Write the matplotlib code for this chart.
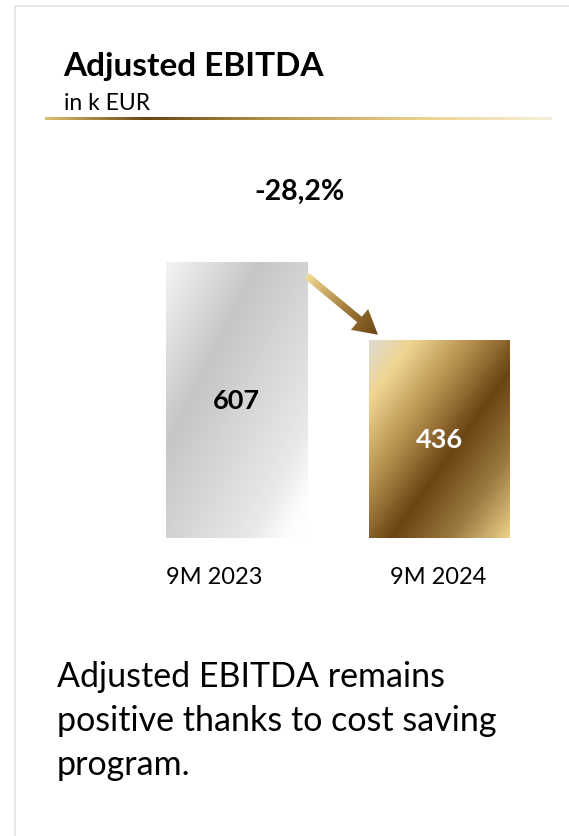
import numpy as np
import matplotlib
matplotlib.use("Agg")
import matplotlib.pyplot as plt
from matplotlib.colors import LinearSegmentedColormap
from matplotlib.patches import Polygon, Rectangle

plt.rcParams['font.family'] = ['Lato', 'DejaVu Sans']

# --- data -------------------------------------------------------------
categories = ["9M 2023", "9M 2024"]
values = [607, 436]
title = "Adjusted EBITDA"
subtitle = "in k EUR"
note_lines = ["Adjusted EBITDA remains",
              "positive thanks to cost saving",
              "program."]

W, H = 569, 837
fig = plt.figure(figsize=(W / 100, H / 100), dpi=100)
fig.patch.set_facecolor("white")

# pixel-space overlay for the card, headings and arrow
ov = fig.add_axes([0, 0, 1, 1], zorder=2)
ov.set_xlim(0, W)
ov.set_ylim(H, 0)
ov.axis("off")
ov.patch.set_visible(False)

# chart axes: baseline at y=539px, 0.4547 px per unit
px_per_unit = 276 / 607
base_px, top_px = 539, 239
ax = fig.add_axes([0, 1 - base_px / H, 1, (base_px - top_px) / H], zorder=1)
ax.set_xlim(-236.5 / 203, (W - 236.5) / 203)
ax.set_ylim(0, (base_px - top_px) / px_per_unit)
ax.axis("off")
ax.patch.set_visible(False)

silver = LinearSegmentedColormap.from_list("silver", [
    (0.0, "#f3f3f3"), (0.33, "#c6c6c6"), (0.55, "#d6d6d6"),
    (0.8, "#e9e9e9"), (0.93, "#fdfdfd"), (1.0, "#ffffff")])
gold = LinearSegmentedColormap.from_list("gold", [
    (0.0, "#dedbd2"), (0.15, "#efd590"), (0.36, "#b8924f"),
    (0.58, "#6a4413"), (0.8, "#9d7a42"), (1.0, "#ebcf88")])
arrow_cm = LinearSegmentedColormap.from_list("arrow", [
    (0.0, "#f0d890"), (0.55, "#a27a3a"), (1.0, "#6a4413")])
rule_cm = LinearSegmentedColormap.from_list("rule", [
    (0.0, "#dcc070"), (0.2, "#6b4512"), (0.45, "#b8944c"),
    (0.75, "#ecd390"), (1.0, "#f7f0dc")])

width = 141 / 203
n = 64
u = np.linspace(0, 1, n)[None, :]
v = np.linspace(0, 1, n)[:, None]
tgrid = (u + v) / 2
bars = ax.bar(range(len(values)), values, width=width, color="none", linewidth=0)
for bar, cm in zip(bars, [silver, gold]):
    x0, y0 = bar.get_x(), bar.get_y()
    im = ax.imshow(tgrid, cmap=cm, vmin=0, vmax=1, origin="upper",
                   extent=[x0, x0 + bar.get_width(), y0, y0 + bar.get_height()],
                   aspect="auto", interpolation="bilinear", zorder=1)
    im.set_clip_path(bar)
ax.set_xlim(-236.5 / 203, (W - 236.5) / 203)
ax.set_ylim(0, (base_px - top_px) / px_per_unit)

for i, (val, col) in enumerate(zip(values, ["black", "white"])):
    ax.text(i, val / 2, f"{val}", ha="center", va="center",
            fontsize=19.5, fontweight="bold", color=col, zorder=3)

# card outline
ov.add_patch(Rectangle((15, 7), W, H, fill=False, edgecolor="#e3e3e3", lw=1.2))

# headings and gradient rule
ov.text(63, 76, title, fontsize=24, fontweight="bold", va="baseline", ha="left")
ov.text(64, 110, subtitle, fontsize=16.5, va="baseline", ha="left")
rule = np.linspace(0, 1, 256)[None, :]
ov.imshow(rule, cmap=rule_cm, extent=[45, 552, 121, 118.5], aspect="auto")

# change label
change = (values[1] - values[0]) / values[0] * 100
ov.text(300, 192, f"{change:.1f}%".replace(".", ","), fontsize=20.5,
        fontweight="bold", ha="center", va="center")

# arrow from bar 1 to bar 2
def to_px(x, y):
    return ov.transData.inverted().transform(ax.transData.transform((x, y)))

b1, b2 = bars[0], bars[1]
S = to_px(b1.get_x() + b1.get_width(), values[0] - 14 / px_per_unit)
E = to_px(b2.get_x() + 9 / 203, values[1] + 5 / px_per_unit)
d = (E - S) / np.linalg.norm(E - S)
nrm = np.array([-d[1], d[0]])
L = np.linalg.norm(E - S)
shaft, head_w, head_l = 3.6, 13.5, 24
Hb = E - d * head_l
pts = [S + nrm * shaft, Hb + nrm * shaft, Hb + nrm * head_w, E,
       Hb - nrm * head_w, Hb - nrm * shaft, S - nrm * shaft]
poly = Polygon(pts, closed=True, facecolor="none", edgecolor="none")
ov.add_patch(poly)
xs = np.array([p[0] for p in pts]); ys = np.array([p[1] for p in pts])
gx = np.linspace(xs.min(), xs.max(), 120)[None, :]
gy = np.linspace(ys.min(), ys.max(), 120)[:, None]
tt = np.clip(((gx - S[0]) * d[0] + (gy - S[1]) * d[1]) / L, 0, 1)
aim = ov.imshow(tt, cmap=arrow_cm, vmin=0, vmax=1, origin="upper",
                extent=[xs.min(), xs.max(), ys.max(), ys.min()],
                aspect="auto", interpolation="bilinear")
aim.set_clip_path(poly)
ov.set_xlim(0, W)
ov.set_ylim(H, 0)

# category labels
for lab, xc in zip(categories, [214, 438]):
    ov.text(xc, 577, lab, fontsize=17, ha="center", va="center")

# note
for k, line in enumerate(note_lines):
    ov.text(57, 687 + 44 * k, line, fontsize=24.5, ha="left", va="baseline")

fig.savefig("out.png", dpi=100)
